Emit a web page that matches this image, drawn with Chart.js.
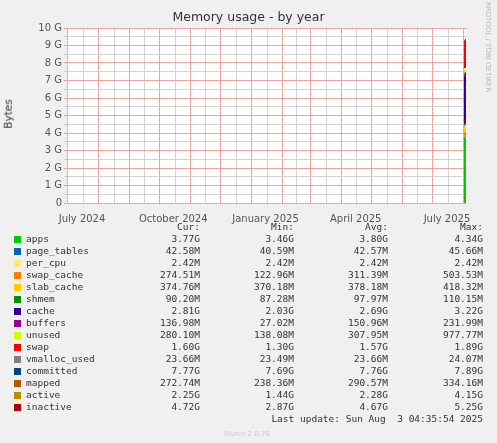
<!DOCTYPE html>
<html><head><meta charset="utf-8">
<script src="https://cdn.jsdelivr.net/npm/chart.js@4"></script>
<style>
body{margin:0;background:#F0F0F0;width:497px;height:443px;overflow:hidden;position:relative;font-family:"DejaVu Sans Mono",monospace;color:#333}
#wrap{position:absolute;left:0;top:0;width:497px;height:225px}
.t{position:absolute;white-space:pre;font-size:9.5px;line-height:12px}
.r{text-align:right}
.sq{position:absolute;width:7px;height:7px}
</style></head><body>
<div id="wrap"><canvas id="c" width="497" height="225"></canvas></div>
<div class="t" style="left:0;width:497px;top:11px;text-align:center;font-family:'DejaVu Sans';font-size:12.5px;color:#333">Memory usage - by year</div>
<div class="t" style="left:-7px;top:108px;transform:rotate(-90deg);font-family:'DejaVu Sans';font-size:10.5px;color:#333">Bytes</div>
<div class="t" style="left:428px;top:56px;transform:rotate(90deg);font-family:'DejaVu Sans';font-size:7px;color:#bbb;width:120px">RRDTOOL / TOBI OETIKER</div>
<div id="leg"></div>
<script>
const names=["apps","page_tables","per_cpu","swap_cache","slab_cache","shmem","cache","buffers","unused","swap","vmalloc_used","committed","mapped","active","inactive"];
const colors=["#00CC00","#0066B3","#FFE680","#FF8000","#FFCC00","#008F00","#330099","#990099","#CCFF00","#FF0000","#808080","#00487D","#B35A00","#B38F00","#B30000"];
const curStr=["3.77G","42.58M","2.42M","274.51M","374.76M","90.20M","2.81G","136.98M","280.10M","1.60G","23.66M","7.77G","272.74M","2.25G","4.72G"];
const minStr=["3.46G","40.59M","2.42M","122.96M","370.18M","87.28M","2.03G","27.02M","138.08M","1.30G","23.49M","7.69G","238.36M","1.44G","2.87G"];
const avgStr=["3.80G","42.57M","2.42M","311.39M","378.18M","97.97M","2.69G","150.96M","307.95M","1.57G","23.66M","7.76G","290.57M","2.28G","4.67G"];
const maxStr=["4.34G","45.66M","2.42M","503.53M","418.32M","110.15M","3.22G","231.99M","977.77M","1.89G","24.07M","7.89G","334.16M","4.15G","5.25G"];
const days=[396,397,398];
const seriesVals=[
 [3.70,3.75,3.77],[0.0426,0.0426,0.0426],[0.0024,0.0024,0.0024],[0.27,0.27,0.2745],[0.375,0.375,0.3748],
 [0.09,0.09,0.0902],[2.75,2.80,2.81],[0.14,0.14,0.137],[0.30,0.28,0.28],[1.60,1.60,1.60],
 [0.0237,0.0237,0.0237],[7.77,7.77,7.77],[0.27,0.27,0.2727],[2.25,2.25,2.25],[4.70,4.72,4.72]];
const monthStarts=[0,31,62,92,123,153,184,215,243,274,304,335,365,396];
const labelDays=[15,106,198,288,379];
const labelText=["July 2024","October 2024","January 2025","April 2025","July 2025"];

let h='';
h+=`<div class="t r" style="left:150px;width:50px;top:221px">Cur:</div><div class="t r" style="left:244px;width:50px;top:221px">Min:</div><div class="t r" style="left:338px;width:50px;top:221px">Avg:</div><div class="t r" style="left:433px;width:50px;top:221px">Max:</div>`;
names.forEach((n,i)=>{const y=233+i*12;
h+=`<div class="sq" style="left:14px;top:${y+3}px;background:${colors[i]}"></div><div class="t" style="left:26px;top:${y}px">${n}</div>`;
h+=`<div class="t r" style="left:120px;width:80px;top:${y}px">${curStr[i]}</div><div class="t r" style="left:214px;width:80px;top:${y}px">${minStr[i]}</div><div class="t r" style="left:308px;width:80px;top:${y}px">${avgStr[i]}</div><div class="t r" style="left:403px;width:80px;top:${y}px">${maxStr[i]}</div>`;});
h+=`<div class="t r" style="left:200px;width:283px;top:413px">Last update: Sun Aug  3 04:35:54 2025</div>`;
h+=`<div class="t" style="left:0;width:494px;top:428px;text-align:center;font-family:'DejaVu Sans';font-size:7px;color:#ccc">Munin 2.0.76</div>`;
document.getElementById('leg').innerHTML=h;

const ds=names.map((n,i)=>{const area=i<10;
 return {label:n,data:days.map((d,k)=>({x:d,y:seriesVals[i][k]})),borderColor:colors[i],backgroundColor:colors[i],
 borderWidth:area?0:1.5,pointRadius:0,fill:area?(i===0?'origin':'-1'):false,stack:area?'a':'l'+i,order:area?2:1,tension:0};});
const minorX=[];for(let d=7;d<=399;d+=15)minorX.push(d);
const ms=new Set(monthStarts);
const minorOnly=[];for(let k=0;k<monthStarts.length-1;k++)minorOnly.push(Math.round((monthStarts[k]+monthStarts[k+1])/2));
new Chart(document.getElementById('c'),{type:'line',data:{datasets:ds},
options:{responsive:false,animation:false,events:[],
layout:{padding:{left:0,right:30,top:28,bottom:0}},
plugins:{legend:{display:false},tooltip:{enabled:false}},
scales:{
 x:{type:'linear',min:0,max:399,
  afterBuildTicks:s=>{s.ticks=[...monthStarts.map(v=>({value:v})),...minorOnly.map(v=>({value:v}))];},
  grid:{color:c=>ms.has(c.tick&&c.tick.value)?'rgba(235,140,140,0.8)':'rgba(200,200,200,0.8)',tickLength:0,lineWidth:1},
  border:{color:'#c8c8ff'},ticks:{display:false},afterFit:s=>{s.height=0;}},
 x2:{type:'linear',min:0,max:399,position:'bottom',grid:{display:false},border:{display:false},
  afterBuildTicks:s=>{s.ticks=labelDays.map(v=>({value:v}));},
  ticks:{autoSkip:false,maxRotation:0,padding:2,color:'#555',font:{family:'DejaVu Sans',size:10},callback:(v)=>labelText[labelDays.indexOf(v)]},
  afterFit:s=>{s.height=22;}},
 y:{stacked:true,min:0,max:10,
  afterBuildTicks:s=>{const t=[];for(let v=0;v<=10;v+=0.5)t.push({value:v});s.ticks=t;},
  grid:{color:c=>(c.tick&&Number.isInteger(c.tick.value))?'rgba(235,140,140,0.8)':'rgba(200,200,200,0.8)',tickLength:3},
  border:{color:'#c8c8ff'},
  ticks:{autoSkip:false,color:'#555',padding:2,font:{family:'DejaVu Sans',size:10},callback:v=>Number.isInteger(v)?(v===0?'0':v+' G'):''},
  afterFit:s=>{s.width=67;}}
}},
plugins:[{id:'bg',beforeDraw:ch=>{const a=ch.chartArea,x=ch.ctx;x.save();x.fillStyle='#fff';x.fillRect(a.left,a.top,a.right-a.left,a.bottom-a.top);x.restore();x.setLineDash([1,2]);},
 beforeDatasetsDraw:ch=>{ch.ctx.setLineDash([]);}}]
});
</script></body></html>
